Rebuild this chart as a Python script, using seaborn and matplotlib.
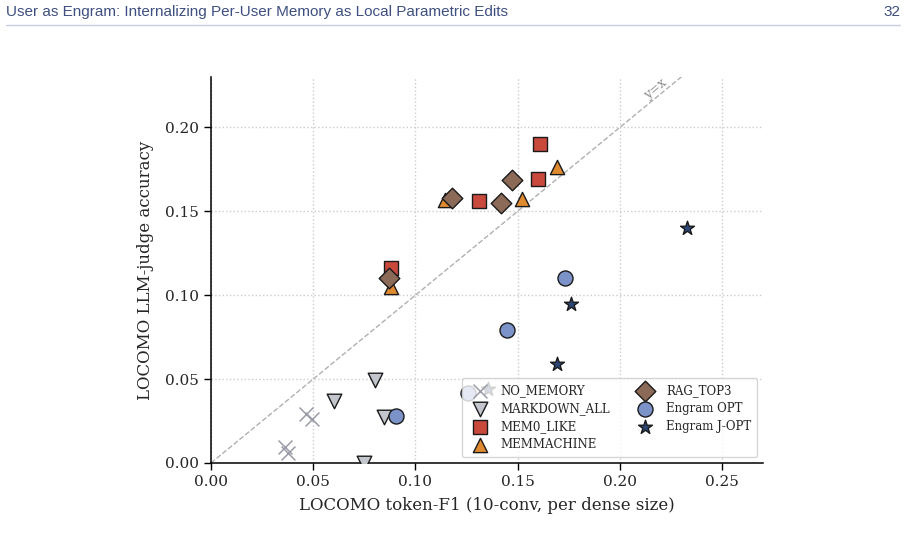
import matplotlib
matplotlib.use("Agg")
import matplotlib.pyplot as plt
import seaborn as sns
import pandas as pd
import numpy as np
from matplotlib.lines import Line2D

# ---- data ----
methods = ["NO_MEMORY", "MARKDOWN_ALL", "MEM0_LIKE", "MEMMACHINE",
           "RAG_TOP3", "Engram OPT", "Engram J-OPT"]

no_memory_f1 = [0.0465, 0.0492, 0.0362, 0.0377]
no_memory_acc = [0.029, 0.026, 0.0097, 0.006]

markdown_f1 = [0.0802, 0.0601, 0.0846, 0.075]
markdown_acc = [0.0494, 0.0369, 0.0272, 0.0]

mem0_f1 = [0.161, 0.160, 0.131, 0.088]
mem0_acc = [0.190, 0.169, 0.156, 0.116]

memmachine_f1 = [0.169, 0.152, 0.1144, 0.088]
memmachine_acc = [0.1765, 0.1575, 0.1565, 0.105]

rag_f1 = [0.147, 0.118, 0.142, 0.087]
rag_acc = [0.1688, 0.158, 0.155, 0.110]

engram_opt_f1 = [0.173, 0.145, 0.0903, 0.1259]
engram_opt_acc = [0.110, 0.079, 0.028, 0.0415]

engram_jopt_f1 = [0.233, 0.176, 0.169, 0.1356]
engram_jopt_acc = [0.140, 0.095, 0.059, 0.044]

x_ticks = [0.00, 0.05, 0.10, 0.15, 0.20, 0.25]
y_ticks = [0.00, 0.05, 0.10, 0.15, 0.20]

series = [
    (methods[0], no_memory_f1, no_memory_acc),
    (methods[1], markdown_f1, markdown_acc),
    (methods[2], mem0_f1, mem0_acc),
    (methods[3], memmachine_f1, memmachine_acc),
    (methods[4], rag_f1, rag_acc),
    (methods[5], engram_opt_f1, engram_opt_acc),
    (methods[6], engram_jopt_f1, engram_jopt_acc),
]
df = pd.concat([pd.DataFrame({"method": m, "f1": x, "acc": y}) for m, x, y in series],
               ignore_index=True)

styles = {
    "NO_MEMORY":    dict(marker="x", color="#9a9ca8", s=100, lw=1.1),
    "MARKDOWN_ALL": dict(marker="v", color="#c3c6cd", s=110, lw=1.0),
    "MEM0_LIKE":    dict(marker="s", color="#c9493d", s=100, lw=1.0),
    "MEMMACHINE":   dict(marker="^", color="#e08a30", s=105, lw=1.0),
    "RAG_TOP3":     dict(marker="D", color="#8c6a58", s=110, lw=1.0),
    "Engram OPT":   dict(marker="o", color="#7b93c8", s=117, lw=1.0),
    "Engram J-OPT": dict(marker="*", color="#2c4676", s=110, lw=1.0),
}

sns.set_theme(style="white")
plt.rcParams["font.family"] = ["DejaVu Serif"]

fig = plt.figure(figsize=(9.06, 5.39), dpi=100)
ax = fig.add_axes([211/906, 76/539, (763-211)/906, (463-77)/539])

# y = x reference line
ax.plot([0, 0.3], [0, 0.3], ls="--", color="#b0b0b0", lw=1.0, zorder=1)
ax.text(0.2175, 0.2225, "y=x", rotation=39.4, color="#888888", fontsize=9,
        ha="center", va="center", rotation_mode="anchor")

for m in methods:
    st = styles[m]
    sub = df[df["method"] == m]
    if st["marker"] == "x":
        sns.scatterplot(data=sub, x="f1", y="acc", marker="x", s=st["s"],
                        color=st["color"], linewidth=st["lw"], ax=ax, label=m,
                        zorder=3)
    else:
        sns.scatterplot(data=sub, x="f1", y="acc", marker=st["marker"], s=st["s"],
                        color=st["color"], edgecolor="#1a1a1a", linewidth=st["lw"],
                        ax=ax, label=m, zorder=3)

ax.set_xlim(0, 0.27)
ax.set_ylim(0, 0.23)
ax.set_xticks(x_ticks)
ax.set_yticks(y_ticks)
ax.set_xticklabels([f"{v:.2f}" for v in x_ticks])
ax.set_yticklabels([f"{v:.2f}" for v in y_ticks])
ax.tick_params(axis="both", labelsize=11, length=5, width=1, direction="out",
               bottom=True, left=True, color="black")
ax.grid(True, ls=":", color="#cccccc", lw=1.0)
ax.set_axisbelow(True)
for s in ["top", "right"]:
    ax.spines[s].set_visible(False)
for s in ["left", "bottom"]:
    ax.spines[s].set_color("black")
    ax.spines[s].set_linewidth(1.1)

ax.set_xlabel("LOCOMO token-F1 (10-conv, per dense size)", fontsize=12, labelpad=6)
ax.set_ylabel("LOCOMO LLM-judge accuracy", fontsize=12, labelpad=8)

leg = ax.legend(loc="lower right", ncol=2, fontsize=8.5, frameon=True,
                framealpha=0.8, edgecolor="#cccccc", fancybox=True,
                borderpad=0.5, handletextpad=0.8, columnspacing=1.9,
                labelspacing=0.42, bbox_to_anchor=(1.0, 0.0), borderaxespad=0.5)
leg.get_frame().set_facecolor("white")

# page header
fig.text(6/906, 1 - 12/539, "User as Engram: Internalizing Per-User Memory as Local Parametric Edits",
         fontsize=11, color="#3f5080", family="Liberation Sans", ha="left", va="center")
fig.text(900/906, 1 - 12/539, "32", fontsize=11, color="#3f5080",
         family="Liberation Sans", ha="right", va="center")
fig.add_artist(Line2D([6/906, 900/906], [1 - 25/539, 1 - 25/539],
                      color="#c8cde2", lw=1.0, transform=fig.transFigure))

fig.savefig("out.png", dpi=100)
